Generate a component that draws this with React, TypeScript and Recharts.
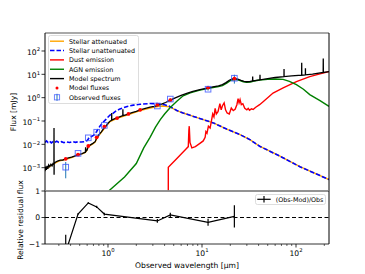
import {
  ComposedChart,
  Line,
  Scatter,
  XAxis,
  YAxis,
  ReferenceLine,
  ErrorBar,
  Legend,
  Label,
} from "recharts";

const FONT = "DejaVu Sans, sans-serif";
const WL_MIN = 0.2137;
const WL_MAX = 224.4;
const FLUX_MIN = 1e-4;
const FLUX_MAX = 590;

// [wavelength (um), flux (mJy)]
const stellarAttenuated: [number, number][] = [
  [0.2137, 0.0008], [0.23, 0.001], [0.26, 0.0014], [0.3, 0.0019], [0.355, 0.0023],
  [0.41, 0.0027], [0.47, 0.0034], [0.53, 0.0039], [0.575, 0.0045], [0.6, 0.0057],
  [0.615, 0.008], [0.69, 0.0105], [0.73, 0.0125], [0.76, 0.018], [0.85, 0.033],
  [0.95, 0.058], [1.05, 0.095], [1.25, 0.13], [1.65, 0.19], [2.2, 0.28], [2.8, 0.36],
  [3.35, 0.42], [3.8, 0.44], [4.5, 0.41], [5.4, 0.28], [6.3, 0.22], [8.1, 0.157],
  [10.3, 0.115], [13.2, 0.083], [18.3, 0.045], [25.4, 0.026], [32.3, 0.016],
  [41, 0.0083], [67.5, 0.0031], [110, 0.0011], [224.4, 0.00031],
];

const stellarUnattenuated: [number, number][] = [
  [0.2137, 0.012], [0.222, 0.014], [0.23, 0.012], [0.24, 0.0135], [0.25, 0.0115],
  [0.26, 0.013], [0.27, 0.012], [0.285, 0.0135], [0.3, 0.012], [0.32, 0.013],
  [0.34, 0.0118], [0.36, 0.0128], [0.39, 0.012], [0.42, 0.013], [0.45, 0.0122],
  [0.48, 0.0128], [0.52, 0.0125], [0.56, 0.013], [0.6, 0.0145], [0.63, 0.019],
  [0.66, 0.021], [0.7, 0.024], [0.74, 0.03], [0.77, 0.04], [0.82, 0.06], [0.88, 0.085],
  [0.945, 0.115], [1.05, 0.18], [1.11, 0.2], [1.2, 0.26], [1.34, 0.33], [1.6, 0.42],
  [1.86, 0.48], [2.2, 0.52], [2.8, 0.56], [3.4, 0.55], [4.0, 0.5], [4.5, 0.43],
  [5.4, 0.28], [6.3, 0.22], [8.1, 0.157], [10.3, 0.115], [13.2, 0.083], [18.3, 0.045],
  [25.4, 0.026], [32.3, 0.016], [41, 0.0083], [67.5, 0.0031], [110, 0.0011],
  [224.4, 0.00031],
];

const dustEmission: [number, number][] = [
  [4.38, 0.0001], [4.381, 0.00105], [5.0, 0.0018], [5.8, 0.0033], [6.8, 0.0065],
  [7.15, 0.008], [7.25, 0.04], [7.32, 0.06], [7.45, 0.012], [7.8, 0.007], [8.5, 0.008],
  [9.5, 0.011], [10.3, 0.014], [10.8, 0.02], [11.0, 0.035], [11.3, 0.03], [11.7, 0.06],
  [12.2, 0.05], [12.6, 0.1], [13.0, 0.2], [13.4, 0.15], [13.8, 0.35], [14.2, 0.2],
  [14.8, 0.25], [15.5, 0.55], [16.0, 0.3], [16.5, 0.45], [17.2, 0.6], [17.8, 0.3],
  [18.5, 0.22], [19.5, 0.2], [20.5, 0.36], [21.5, 0.28], [22.5, 0.32], [23.5, 0.5],
  [24.2, 0.9], [24.8, 0.6], [25.4, 0.82], [26.2, 0.5], [27.2, 0.55], [28.5, 0.35],
  [30, 0.3], [31, 0.35], [32, 0.29], [33.5, 0.33], [35, 0.31], [37, 0.38], [41, 0.5],
  [45, 0.69], [57, 1.57], [73, 2.6], [101, 4.9], [140, 8.0], [180, 10.5], [224.4, 13.1],
];

const agnEmission: [number, number][] = [
  [1.017, 0.0001], [1.5, 0.0004], [2.0, 0.0015], [2.4, 0.007], [2.8, 0.02], [3.2, 0.055],
  [3.6, 0.115], [4.0, 0.2], [4.57, 0.37], [5.4, 0.7], [6.3, 1.2], [7.5, 1.6], [9.5, 2.1],
  [12.2, 2.6], [15, 3.0], [16.5, 3.3], [18.3, 4.2], [20, 5.4], [22.5, 6.1], [25, 5.5],
  [27.5, 4.8], [29.8, 4.5], [33, 4.7], [36, 5.2], [41, 5.7], [50, 6.1], [60, 6.3],
  [73, 6.1], [85, 5.0], [101, 3.6], [120, 2.3], [140, 1.35], [180, 0.75], [224.4, 0.42],
];

const modelSpectrum: [number, number][] = [
  [0.2137, 0.0007], [0.217, 0.0011], [0.221, 0.0008], [0.225, 0.0012], [0.229, 0.0009],
  [0.234, 0.0013], [0.24, 0.0011], [0.247, 0.0014], [0.254, 0.0012], [0.26, 0.0015],
  [0.266, 0.0014], [0.2665, 0.05], [0.267, 0.0005], [0.2675, 0.0015], [0.275, 0.0017],
  [0.29, 0.0019], [0.31, 0.0021], [0.33, 0.0021], [0.355, 0.0024], [0.38, 0.0026],
  [0.41, 0.0028], [0.44, 0.0031], [0.47, 0.0035], [0.5, 0.0037], [0.53, 0.004],
  [0.56, 0.0044], [0.575, 0.0046], [0.578, 0.0075], [0.581, 0.005], [0.6, 0.0058],
  [0.615, 0.0082], [0.65, 0.0095], [0.69, 0.011], [0.73, 0.013], [0.76, 0.019],
  [0.8, 0.026], [0.85, 0.034], [0.9, 0.048], [0.95, 0.06], [1.0, 0.08], [1.05, 0.098],
  [1.093, 0.108], [1.095, 0.22], [1.097, 0.108], [1.15, 0.12], [1.25, 0.135],
  [1.35, 0.155], [1.437, 0.17], [1.44, 0.32], [1.443, 0.17], [1.55, 0.185], [1.65, 0.2],
  [1.8, 0.23], [2.0, 0.26], [2.2, 0.3], [2.5, 0.35], [2.8, 0.39], [3.1, 0.42],
  [3.35, 0.46], [3.7, 0.53], [4.1, 0.62], [4.6, 0.78], [5.2, 0.98], [6.0, 1.25],
  [7.0, 1.55], [8.0, 1.85], [9.5, 2.2], [11, 2.5], [12, 2.7], [13.5, 2.95], [15, 3.2],
  [16.5, 3.6], [18, 4.4], [19.5, 5.6], [21, 6.3], [22.5, 6.5], [24, 6.2], [26, 5.5],
  [28, 5.0], [30, 4.8], [32, 4.9], [34.5, 5.2], [34.6, 8.0], [34.7, 5.2], [38, 5.5],
  [41.3, 5.8], [41.4, 9.5], [41.5, 5.8], [50, 6.6], [60, 7.3], [74.5, 8.0], [74.6, 16.8],
  [74.7, 8.0], [90, 8.5], [114.8, 9.2], [115, 31.5], [115.2, 9.2], [125.8, 9.5],
  [126, 18.2], [126.2, 9.5], [150, 10.2], [194.5, 12], [195, 48], [195.5, 12],
  [224.4, 13],
];

// filters: u g r i z J H K W1 W2 W3 W4
const modelFluxes: [number, number][] = [
  [0.355, 0.0024], [0.48, 0.0036], [0.617, 0.0085], [0.758, 0.02], [0.914, 0.057],
  [1.25, 0.133], [1.65, 0.2], [2.2, 0.3], [3.35, 0.5], [4.6, 0.78], [11.6, 2.7],
  [22.1, 6.5],
];

// [wavelength, flux, error]
const observedFluxes: [number, number, number][] = [
  [0.355, 0.00105, 0.0007], [0.48, 0.0041, 0.00012], [0.617, 0.019, 0.0006],
  [0.758, 0.033, 0.0013], [0.914, 0.065, 0.003], [3.35, 0.44, 0.03],
  [4.6, 0.87, 0.07], [11.6, 2.3, 0.3], [22.1, 6.8, 2.8],
];

// [wavelength, (obs-mod)/obs, error]
const residuals: [number, number, number][] = [
  [0.355, -1.3, 0.65], [0.48, 0.13, 0.03], [0.617, 0.55, 0.03], [0.758, 0.4, 0.04],
  [0.914, 0.13, 0.05], [3.35, -0.13, 0.07], [4.6, 0.1, 0.08], [11.6, -0.18, 0.13],
  [22.1, 0.04, 0.42],
];

const fluxTicks = [1e-3, 1e-2, 1e-1, 1, 10, 100];
const wlTicks = [
  0.3, 0.4, 0.5, 0.6, 0.7, 0.8, 0.9, 1, 2, 3, 4, 5, 6, 7, 8, 9, 10,
  20, 30, 40, 50, 60, 70, 80, 90, 100, 200,
];
const residTicks = [-1, 0, 1];

const pts = (arr: [number, number][]) => arr.map(([wl, f]) => ({ wl, f }));

const expLabel = (e: number) => (e < 0 ? `\u2212${-e}` : `${e}`);

const FluxTick = (props: any) => {
  const { x, y, payload } = props;
  const e = Math.round(Math.log10(payload.value));
  return (
    <g>
      <line x1={x - 3.5} x2={x} y1={y} y2={y} stroke="#000" strokeWidth={0.8} />
      <text x={x - 5} y={y + 3.8} textAnchor="end" fontSize={7.6} fontFamily={FONT} fill="#000">
        10<tspan dy={-3.4} fontSize={5.3}>{expLabel(e)}</tspan>
      </text>
    </g>
  );
};

const ResidTick = (props: any) => {
  const { x, y, payload } = props;
  const v = payload.value;
  return (
    <g>
      <line x1={x - 3.5} x2={x} y1={y} y2={y} stroke="#000" strokeWidth={0.8} />
      <text x={x - 5} y={y + 2.8} textAnchor="end" fontSize={7.6} fontFamily={FONT} fill="#000">
        {v < 0 ? `\u2212${-v}` : `${v}`}
      </text>
    </g>
  );
};

const WlTick = (props: any) => {
  const { x, y, payload } = props;
  const lg = Math.log10(payload.value);
  const major = Math.abs(lg - Math.round(lg)) < 1e-6;
  return (
    <g>
      <line x1={x} x2={x} y1={y} y2={y + (major ? 3.5 : 2)} stroke="#000" strokeWidth={major ? 0.8 : 0.6} />
      {major && (
        <text x={x} y={y + 11.8} textAnchor="middle" fontSize={7.6} fontFamily={FONT} fill="#000">
          10<tspan dy={-3.4} fontSize={5.3}>{expLabel(Math.round(lg))}</tspan>
        </text>
      )}
    </g>
  );
};

const legendItems = [
  { label: "Stellar attenuated", kind: "line", color: "#FFA500" },
  { label: "Stellar unattenuated", kind: "dash", color: "#0000FF" },
  { label: "Dust emission", kind: "line", color: "#FF0000" },
  { label: "AGN emission", kind: "line", color: "#008000" },
  { label: "Model spectrum", kind: "line", color: "#000000" },
  { label: "Model fluxes", kind: "dot", color: "#FF0000" },
  { label: "Observed fluxes", kind: "square", color: "#3a55ff" },
];

const MainLegend = () => (
  <svg width={91} height={69} style={{ display: "block" }}>
    <rect x={0.5} y={0.5} width={90} height={68} rx={2} fill="#fff" fillOpacity={0.85} stroke="#d4d4d4" strokeWidth={0.8} />
    {legendItems.map((it, i) => {
      const cy = 6.2 + i * 9.35;
      return (
        <g key={it.label}>
          {it.kind === "line" && <line x1={2} x2={16} y1={cy} y2={cy} stroke={it.color} strokeWidth={1.4} />}
          {it.kind === "dash" && (
            <line x1={2} x2={16} y1={cy} y2={cy} stroke={it.color} strokeWidth={1.6} strokeDasharray="4.5 2" />
          )}
          {it.kind === "dot" && <circle cx={9} cy={cy} r={1.5} fill={it.color} />}
          {it.kind === "square" && (
            <g>
              <line x1={9} x2={9} y1={cy - 3.5} y2={cy + 3.5} stroke="#1f77b4" strokeWidth={1} />
              <rect x={6.4} y={cy - 2.6} width={5.2} height={5.2} fill="none" stroke={it.color} strokeOpacity={0.8} strokeWidth={0.9} />
            </g>
          )}
          <text x={21} y={cy + 2.3} fontSize={6.4} fontFamily={FONT} fill="#000">
            {it.label}
          </text>
        </g>
      );
    })}
  </svg>
);

const ResidLegend = () => (
  <svg width={71} height={11} style={{ display: "block" }}>
    <rect x={0.5} y={0.5} width={70} height={10} rx={2} fill="#fff" fillOpacity={0.85} stroke="#d4d4d4" strokeWidth={0.8} />
    <line x1={2.3} x2={15.7} y1={5.3} y2={5.3} stroke="#000" strokeWidth={1.2} />
    <line x1={9} x2={9} y1={2} y2={8.6} stroke="#000" strokeWidth={1.2} />
    <text x={20.7} y={7.6} fontSize={6.4} fontFamily={FONT} fill="#000">
      (Obs-Mod)/Obs
    </text>
  </svg>
);

const RedDot = (props: any) => <circle cx={props.cx} cy={props.cy} r={1.9} fill="#FF0000" />;

const ObsSquare = (props: any) => (
  <rect
    x={props.cx - 2.8}
    y={props.cy - 2.8}
    width={5.6}
    height={5.6}
    fill="none"
    stroke="#3a55ff"
    strokeOpacity={0.8}
    strokeWidth={1}
  />
);

const layer: React.CSSProperties = { position: "absolute", left: 0, top: 0 };

export default function App() {
  const obsData = observedFluxes.map(([wl, f, err]) => ({ wl, f, err }));
  const residData = residuals.map(([wl, r, err]) => ({ wl, r, err }));

  return (
    <div style={{ position: "absolute", left: 0, top: 0, width: 365, height: 274, background: "#fff" }}>
      {/* upper panel: SED */}
      <div style={layer}>
        <ComposedChart width={365} height={274} margin={{ top: 33, right: 36, bottom: 83, left: 0 }}>
          <XAxis dataKey="wl" type="number" scale="log" domain={[WL_MIN, WL_MAX]} allowDataOverflow hide />
          <YAxis
            dataKey="f"
            type="number"
            scale="log"
            domain={[FLUX_MIN, FLUX_MAX]}
            allowDataOverflow
            width={45}
            ticks={fluxTicks}
            interval={0}
            tick={FluxTick}
            tickLine={false}
            axisLine={false}
            tickSize={0}
            tickMargin={0}
          >
            <Label
              content={() => (
                <text
                  x={13}
                  y={112}
                  transform="rotate(-90 13 112)"
                  textAnchor="middle"
                  dominantBaseline="central"
                  fontSize={7.6}
                  fontFamily={FONT}
                  fill="#000"
                >
                  Flux [mJy]
                </text>
              )}
            />
          </YAxis>
          <Line data={pts(stellarAttenuated)} dataKey="f" stroke="#FFA500" strokeWidth={1.4} dot={false} activeDot={false} isAnimationActive={false} />
          <Line data={pts(stellarUnattenuated)} dataKey="f" stroke="#0000FF" strokeWidth={1.6} strokeDasharray="4.5 2" dot={false} activeDot={false} isAnimationActive={false} />
          <Line data={pts(dustEmission)} dataKey="f" stroke="#FF0000" strokeWidth={1.4} dot={false} activeDot={false} isAnimationActive={false} />
          <Line data={pts(agnEmission)} dataKey="f" stroke="#008000" strokeWidth={1.4} dot={false} activeDot={false} isAnimationActive={false} />
          <Line data={pts(modelSpectrum)} dataKey="f" stroke="#000000" strokeWidth={1.3} dot={false} activeDot={false} isAnimationActive={false} />
          <Scatter data={pts(modelFluxes)} dataKey="f" shape={RedDot} isAnimationActive={false} />
          <Scatter data={obsData} dataKey="f" shape={ObsSquare} isAnimationActive={false}>
            <ErrorBar dataKey="err" direction="y" width={0} stroke="#1f77b4" strokeWidth={1} />
          </Scatter>
          <ReferenceLine y={FLUX_MAX} stroke="#8c8c8c" strokeWidth={1.6} />
          <ReferenceLine y={FLUX_MIN} stroke="#8c8c8c" strokeWidth={1.6} />
          <ReferenceLine x={WL_MIN} stroke="#000" strokeWidth={1} />
          <ReferenceLine x={WL_MAX} stroke="#000" strokeWidth={1} />
          <Legend
            layout="horizontal"
            verticalAlign="middle"
            align="center"
            wrapperStyle={{ left: 48, top: 35, width: 91, height: 69, margin: 0 }}
            content={() => <MainLegend />}
          />
        </ComposedChart>
      </div>

      {/* lower panel: axes, zero line, legend */}
      <div style={layer}>
        <ComposedChart width={365} height={274} margin={{ top: 191, right: 36, bottom: 0, left: 0 }}>
          <XAxis
            dataKey="wl"
            type="number"
            scale="log"
            domain={[WL_MIN, WL_MAX]}
            allowDataOverflow
            height={30}
            ticks={wlTicks}
            interval={0}
            tick={WlTick}
            tickLine={false}
            axisLine={false}
            tickSize={0}
            tickMargin={0}
          >
            <Label
              content={() => (
                <text x={187} y={267.8} textAnchor="middle" fontSize={7.6} fontFamily={FONT} fill="#000">
                  Observed wavelength [μm]
                </text>
              )}
            />
          </XAxis>
          <YAxis
            dataKey="r"
            type="number"
            domain={[-1, 1]}
            allowDataOverflow
            width={45}
            ticks={residTicks}
            interval={0}
            tick={ResidTick}
            tickLine={false}
            axisLine={false}
            tickSize={0}
            tickMargin={0}
          >
            <Label
              content={() => (
                <text
                  x={20.5}
                  y={220}
                  transform="rotate(-90 20.5 220)"
                  textAnchor="middle"
                  dominantBaseline="central"
                  fontSize={7.6}
                  fontFamily={FONT}
                  fill="#000"
                >
                  Relative residual flux
                </text>
              )}
            />
          </YAxis>
          <ReferenceLine y={0} stroke="#000" strokeWidth={1.2} strokeDasharray="4 2.5" />
          <ReferenceLine y={1} stroke="#8c8c8c" strokeWidth={1.6} />
          <ReferenceLine y={-1} stroke="#333" strokeWidth={1} />
          <ReferenceLine x={WL_MIN} stroke="#000" strokeWidth={1} />
          <ReferenceLine x={WL_MAX} stroke="#000" strokeWidth={1} />
          <Legend
            layout="horizontal"
            verticalAlign="middle"
            align="center"
            wrapperStyle={{ left: 255, top: 194, width: 71, height: 11, margin: 0 }}
            content={() => <ResidLegend />}
          />
        </ComposedChart>
      </div>

      {/* lower panel: residual series, clipped to the panel */}
      <div style={{ ...layer, width: 365, height: 244, overflow: "hidden" }}>
        <ComposedChart width={365} height={274} margin={{ top: 191, right: 36, bottom: 30, left: 45 }}>
          <XAxis dataKey="wl" type="number" scale="log" domain={[WL_MIN, WL_MAX]} allowDataOverflow hide />
          <YAxis dataKey="r" type="number" domain={[-1, 1]} allowDataOverflow hide />
          <Line data={residData} dataKey="r" stroke="#000" strokeWidth={1.2} dot={false} activeDot={false} isAnimationActive={false}>
            <ErrorBar dataKey="err" direction="y" width={0} stroke="#000" strokeWidth={1.2} />
          </Line>
        </ComposedChart>
      </div>
    </div>
  );
}
